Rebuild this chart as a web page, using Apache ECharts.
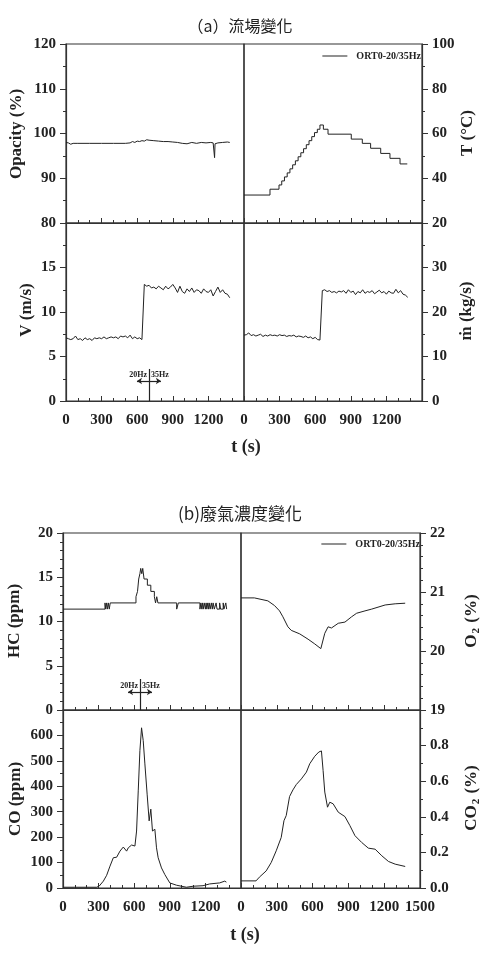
<!DOCTYPE html>
<html>
<head>
<meta charset="utf-8">
<script src="https://cdn.jsdelivr.net/npm/echarts@6/dist/echarts.min.js"></script>
<style>
html,body{margin:0;padding:0;background:#fff}
#chart{width:486px;height:961px}
</style>
</head>
<body>
<div id="chart"></div>
<script>
var LEG = 'ORT0-20/35Hz'
var SERIF = '"Liberation Serif", "Times New Roman", serif'
var INK = '#222'

// sample times (s) for the noisy V / m-dot traces
var tFast = [0,20,40,60,80,100,120,140,160,180,200,220,240,260,280,300,320,340,360,380,
  400,420,440,460,480,500,520,540,560,580,600,620,640,660,680,700,720,740,760,780,
  800,820,840,860,880,900,920,940,960,980,1000,1020,1040,1060,1080,1100,1120,1140,1160,1180,
  1200,1220,1240,1260,1280,1300,1320,1340,1360,1380]
var velocity = [7.1,7.0,6.9,7.0,7.3,6.9,7.0,6.8,7.1,6.9,7.0,6.8,7.1,7.0,7.1,7.0,7.2,7.0,7.1,7.2,
  7.1,7.2,7.0,7.3,7.2,7.3,7.1,7.4,7.0,7.2,7.0,7.1,6.9,13.1,12.9,13.0,12.7,12.8,12.6,12.9,
  12.7,12.5,12.9,12.6,12.8,13.1,12.7,12.2,12.9,12.3,12.1,12.6,12.3,12.7,12.2,12.5,12.4,12.1,12.6,12.3,
  12.2,12.5,11.8,12.3,12.8,12.2,12.5,12.1,12.0,11.6]
var massFlow = [14.8,14.9,15.3,14.7,14.9,14.6,14.8,15.0,14.5,14.8,14.6,14.9,14.7,14.8,14.6,14.9,14.7,14.8,14.5,14.7,
  14.6,14.8,14.4,14.6,14.5,14.3,14.6,14.2,14.4,14.0,14.3,13.8,13.7,24.8,25.0,24.6,24.8,24.4,24.6,24.3,
  24.7,24.5,24.8,24.2,25.0,24.4,24.7,23.9,24.6,24.3,25.0,24.2,24.6,24.4,24.8,24.1,24.5,24.9,24.3,24.6,
  24.0,24.7,24.3,24.2,25.1,24.3,24.8,24.0,23.8,23.3]

var tOpa = [0,20,40,60,100,200,300,400,500,540,560,580,600,620,640,660,680,700,740,780,
  820,860,900,940,980,1020,1060,1100,1140,1180,1220,1240,1248,1252,1256,1264,1280,1320,1360,1380]
var opacity = [98.0,97.9,97.6,97.8,97.8,97.8,97.8,97.8,97.8,97.9,98.2,98.0,98.3,98.2,98.4,98.3,98.6,98.5,98.4,98.3,
  98.2,98.2,98.1,98.0,97.8,97.7,98.0,97.8,98.0,97.9,98.0,97.9,97.8,94.6,97.7,98.0,97.9,98.0,98.1,98.0]

var tTemp = [0,219,295,318,341,364,387,410,433,456,479,502,525,548,571,594,618,640,669,708,904,997,1067,1152,1230,1315,1376]
var temp = [32.5,35.1,37.0,38.8,40.6,42.4,44.2,46.0,47.8,49.6,51.4,53.2,55.0,56.8,58.6,60.4,61.9,63.8,61.9,59.7,57.5,55.6,53.4,51.1,48.9,46.4,46.4]

var tHC = [0,354,360,368,374,382,390,398,615,628,638,648,655,664,672,683,711,740,770,780,
  790,800,817,958,972,1154,1162,1170,1175,1182,1190,1200,1206,1212,1220,1226,1232,1240,1250,1258,
  1265,1275,1290,1298,1320,1328,1350,1356,1372,1379]
var hc = [11.4,12.1,11.4,12.1,11.4,12.1,11.4,12.1,12.8,13.4,14.8,15.4,16.0,15.4,16.0,14.8,14.1,13.4,12.8,12.1,
  12.8,12.1,12.1,11.4,12.1,11.4,12.1,11.4,12.1,11.4,12.1,11.4,12.1,11.4,12.1,11.4,12.1,11.4,12.1,11.4,
  12.1,11.4,12.1,11.4,12.1,11.4,12.1,11.4,12.1,11.4]

var tO2 = [0,112,225,281,323,351,393,421,492,562,618,669,680,702,730,758,815,871,927,969,1039,1095,1208,1292,1376]
var o2 = [20.90,20.90,20.85,20.77,20.68,20.58,20.41,20.35,20.29,20.20,20.12,20.04,20.07,20.30,20.41,20.39,20.47,20.49,20.58,20.64,20.68,20.71,20.78,20.80,20.81]

var tCO = [0,100,200,284,306,340,368,396,424,452,480,508,536,550,578,606,620,634,648,662,
  676,690,709,726,740,754,774,788,802,830,858,900,956,1040,1096,1180,1236,1320,1363,1377]
var co = [3,3,3,3,8,27,50,86,119,121,145,161,145,158,169,165,224,382,540,630,
  580,488,369,264,310,224,231,158,119,79,53,20,11,3,7,9,16,20,27,23]

var tCO2 = [0,126,154,211,253,295,337,360,379,407,435,463,506,548,576,618,652,674,688,702,
  725,744,772,815,871,913,955,1011,1067,1124,1180,1236,1292,1376]
var co2 = [0.04,0.04,0.061,0.096,0.143,0.209,0.284,0.378,0.407,0.514,0.551,0.581,0.613,0.651,0.698,0.740,0.764,0.770,0.66,0.539,
  0.454,0.482,0.473,0.426,0.401,0.350,0.294,0.256,0.224,0.218,0.181,0.149,0.134,0.121]

function pairs(t, v) {
  return t.map(function (x, i) { return [x, v[i]] })
}

var axisLine = { show: true, onZero: false, lineStyle: { color: '#333', width: 1.2 } }
var tickFont = { fontFamily: SERIF, fontWeight: 'bold', fontSize: 15, color: INK }
var plain = function (v) { return String(v) }
var fix1 = function (v) { return v.toFixed(1) }

function xAx(grid, labels, showMax) {
  return {
    type: 'value', gridIndex: grid, min: 0, max: 1500, interval: 300,
    axisLine: axisLine,
    axisTick: { show: true, inside: true, length: 5, lineStyle: { color: '#333' } },
    minorTick: { show: true, splitNumber: 3, length: 3, lineStyle: { color: '#333' } },
    splitLine: { show: false },
    axisLabel: Object.assign({ show: labels, margin: 12, showMaxLabel: showMax, formatter: plain }, tickFont)
  }
}

function yAx(grid, pos, min, max, interval, minor, showMax, fmt) {
  return {
    type: 'value', gridIndex: grid, position: pos, min: min, max: max, interval: interval,
    axisLine: axisLine,
    axisTick: { show: true, inside: false, length: 6, lineStyle: { color: '#333' } },
    minorTick: { show: true, splitNumber: minor, length: 3, lineStyle: { color: '#333' } },
    splitLine: { show: false },
    axisLabel: Object.assign({ margin: 10, showMaxLabel: showMax, formatter: fmt || plain }, tickFont)
  }
}

function line(xi, data, extra) {
  return Object.assign({
    type: 'line', name: LEG, xAxisIndex: xi, yAxisIndex: xi, data: data,
    showSymbol: false, symbol: 'none',
    lineStyle: { color: INK, width: 1 }, itemStyle: { color: INK }
  }, extra || {})
}

function hzMark(tLine, yTop, tL, tR, yArrow, yText) {
  return {
    markLine: {
      silent: true, symbol: ['none', 'none'], symbolSize: 5, animation: false,
      label: { show: false },
      lineStyle: { color: INK, type: 'solid', width: 1.2 },
      data: [
        [{ coord: [tLine, 0] }, { coord: [tLine, yTop] }],
        [{ coord: [tL, yArrow], symbol: 'arrow' }, { coord: [tR, yArrow], symbol: 'arrow' }]
      ]
    },
    markPoint: {
      symbol: 'circle', symbolSize: 0, animation: false,
      label: { show: true, fontFamily: SERIF, fontWeight: 'bold', fontSize: 8, color: INK },
      data: [
        { coord: [tLine, yText], label: { position: 'left', distance: 2, formatter: '20Hz' } },
        { coord: [tLine, yText], label: { position: 'right', distance: 2, formatter: '35Hz' } }
      ]
    }
  }
}

function txt(x, y, text, size, rot, family, weight, rich) {
  return {
    type: 'text', x: x, y: y, rotation: rot || 0, silent: true,
    style: {
      text: text, fill: INK, fontSize: size, fontFamily: family || SERIF, fontWeight: weight || 'bold',
      textAlign: 'center', textVerticalAlign: 'middle', align: 'center', verticalAlign: 'middle',
      rich: rich
    }
  }
}

function subRich(size) {
  return {
    n: { fontSize: size, fontFamily: SERIF, fontWeight: 'bold', fill: INK, color: INK },
    s: { fontSize: 11, fontFamily: SERIF, fontWeight: 'bold', fill: INK, color: INK, padding: [9, 1, 0, 1] }
  }
}

var legendBase = {
  data: [LEG], padding: 0, itemWidth: 25, itemHeight: 1, icon: 'rect', selectedMode: false,
  textStyle: { fontFamily: SERIF, fontWeight: 'bold', fontSize: 10, color: INK, padding: [0, 0, 0, 4] }
}

var V = Math.PI / 2

var option = {
  animation: false,
  backgroundColor: '#fff',
  grid: [
    { left: 66, top: 44, width: 178, height: 179 },
    { left: 244, top: 44, width: 178, height: 179 },
    { left: 66, top: 223, width: 178, height: 178 },
    { left: 244, top: 223, width: 178, height: 178 },
    { left: 63, top: 533, width: 178, height: 177 },
    { left: 241, top: 533, width: 179, height: 177 },
    { left: 63, top: 710, width: 178, height: 178 },
    { left: 241, top: 710, width: 179, height: 178 }
  ].map(function (g) {
    return Object.assign({ show: true, borderColor: '#333', borderWidth: 1.2, outerBoundsMode: 'none' }, g)
  }),
  legend: [
    Object.assign({ right: 65, top: 51 }, legendBase),
    Object.assign({ right: 66, top: 539 }, legendBase)
  ],
  xAxis: [
    xAx(0, false, false), xAx(1, false, false), xAx(2, true, false), xAx(3, true, false),
    xAx(4, false, false), xAx(5, false, false), xAx(6, true, false), xAx(7, true, true)
  ],
  yAxis: [
    yAx(0, 'left', 80, 120, 10, 2, true),
    yAx(1, 'right', 20, 100, 20, 2, true),
    yAx(2, 'left', 0, 20, 5, 2, false),
    yAx(3, 'right', 0, 40, 10, 2, false),
    yAx(4, 'left', 0, 20, 5, 5, true),
    yAx(5, 'right', 19, 22, 1, 5, true),
    yAx(6, 'left', 0, 700, 100, 2, false),
    yAx(7, 'right', 0, 1.0, 0.2, 2, false, fix1)
  ],
  series: [
    line(0, pairs(tOpa, opacity)),
    line(1, pairs(tTemp, temp), { step: 'end' }),
    line(2, pairs(tFast, velocity), hzMark(700, 3.6, 598, 800, 2.25, 2.9)),
    line(3, pairs(tFast, massFlow)),
    line(4, pairs(tHC, hc), Object.assign({ step: 'end' }, hzMark(649, 3.5, 548, 750, 2.03, 2.7))),
    line(5, pairs(tO2, o2)),
    line(6, pairs(tCO, co)),
    line(7, pairs(tCO2, co2))
  ],
  graphic: [
    txt(240, 26, '（a）流場變化', 16, 0, '"Noto Sans CJK TC"', 'normal'),
    txt(17, 134, 'Opacity (%)', 17, V),
    txt(468, 133, 'T (°C)', 17, V),
    txt(27, 310, 'V (m/s)', 17, V),
    txt(467, 311, 'ṁ (kg/s)', 17, V),
    txt(246, 447, 't (s)', 18, 0),
    txt(240, 514, '(b)廢氣濃度變化', 17, 0, '"Noto Sans CJK TC"', 'normal'),
    txt(15, 621, 'HC (ppm)', 17, V),
    txt(472, 621, '{n|O}{s|2}{n| (%)}', 17, V, null, null, subRich(17)),
    txt(16, 799, 'CO (ppm)', 17, V),
    txt(472, 798, '{n|CO}{s|2}{n| (%)}', 17, V, null, null, subRich(17)),
    txt(245, 935, 't (s)', 18, 0)
  ]
}

var chart = echarts.init(document.getElementById('chart'), null, { renderer: 'canvas' })
chart.setOption(option)
</script>
</body>
</html>
